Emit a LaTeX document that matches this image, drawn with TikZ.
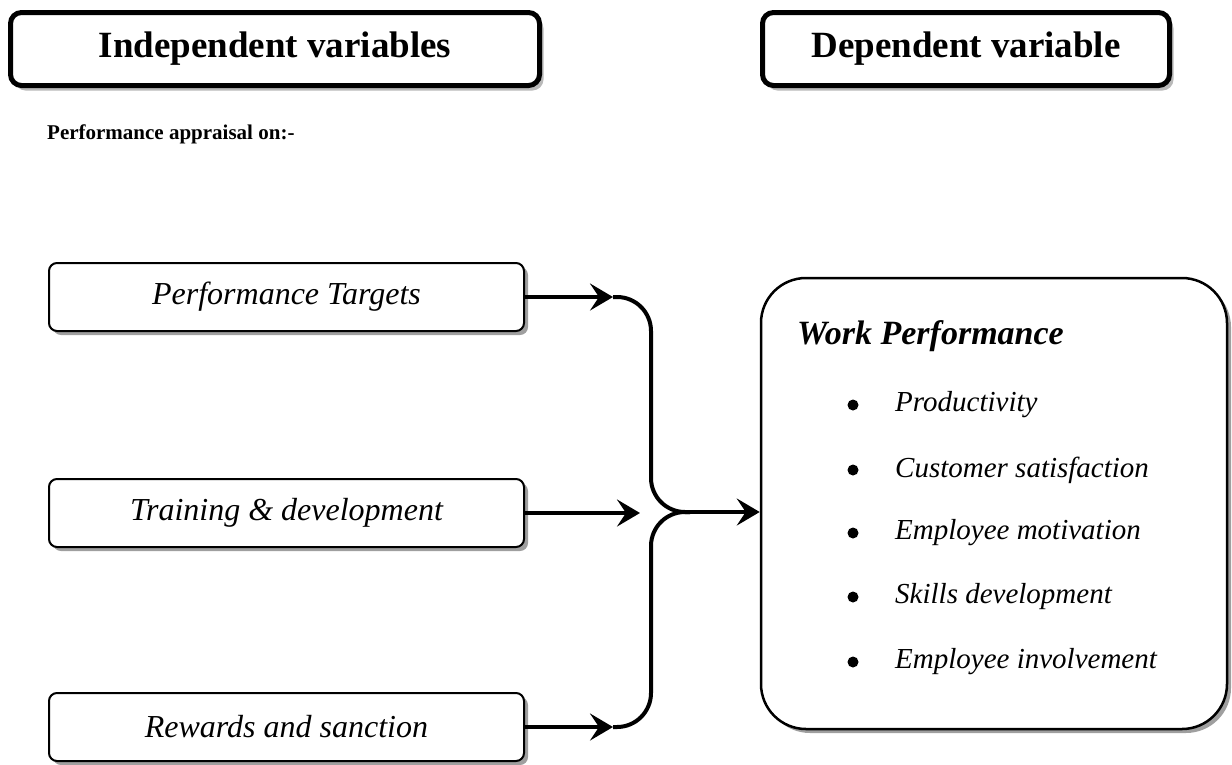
\documentclass[tikz,border=0pt]{standalone}
\usepackage{fontspec}
\setmainfont{Liberation Serif}
\usetikzlibrary{arrows.meta,shadows}
\begin{document}
\begin{tikzpicture}[x=1pt,y=-1pt,
  headbox/.style={draw,line width=5pt,rounded corners=11pt,fill=white,
    minimum width=529pt,minimum height=73pt,inner sep=0pt,
    drop shadow={shadow xshift=4pt,shadow yshift=-5pt,fill=gray!55,opacity=1},
    font=\fontsize{37}{44}\selectfont\bfseries},
  varbox/.style={draw,line width=2pt,rounded corners=8pt,fill=white,
    minimum width=475pt,minimum height=68pt,inner sep=0pt,
    drop shadow={shadow xshift=4pt,shadow yshift=-4pt,fill=gray!75,opacity=1},
    font=\fontsize{32}{38}\selectfont\itshape},
  bigbox/.style={draw,line width=2.5pt,rounded corners=45pt,fill=white,
    minimum width=466pt,minimum height=451pt,inner sep=0pt,
    drop shadow={shadow xshift=4pt,shadow yshift=-4pt,fill=gray!75,opacity=1}},
  item/.style={anchor=west,inner sep=0pt,font=\fontsize{29}{34}\selectfont\itshape},
  bul/.style={circle,fill=black,inner sep=0pt,minimum size=11pt},
  arr/.style={line width=4pt,-{Stealth[length=23pt,width=27pt,inset=9pt]}},
  brace/.style={line width=4pt,rounded corners=34pt}
]
\useasboundingbox (0,0) rectangle (1232,764);

\node[headbox] (iv) at (275,49) {Independent variables};
\node[headbox,minimum width=407pt] (dv) at (966,49) {Dependent variable};

\node[anchor=west,inner sep=0pt,font=\fontsize{21}{25}\selectfont\bfseries] (pa) at (47,134) {Performance appraisal on:-};

\node[varbox] (b1) at (286.5,297) {Performance Targets};
\node[varbox] (b2) at (286.5,513) {Training \& development};
\node[varbox] (b3) at (286.5,727) {Rewards and sanction};

\node[bigbox] (wp) at (994,503.5) {};
\node[anchor=west,inner sep=0pt,font=\fontsize{34}{40}\selectfont\bfseries\itshape] (wpt) at (797,336) {Work Performance};
\foreach \n/\t/\y in {p1/Productivity/405,p2/Customer satisfaction/470,p3/Employee motivation/533,p4/Skills development/597,p5/Employee involvement/662}{
  \node[bul] (\n b) at (853,\y) {};
  \node[item] (\n) at (895,\y) {\t};
}

\coordinate (j1) at (613,297);
\coordinate (j2) at (640,513);
\coordinate (j3) at (613,727);
\coordinate (k1) at (651,297);
\coordinate (k3) at (651,727);
\coordinate (km) at (651,512);
\coordinate (m) at (690,512);

\draw[arr] (b1.east) -- (j1);
\draw[arr] (b2.east) -- (j2);
\draw[arr] (b3.east) -- (j3);
\draw[brace] (j1) -- (k1) -- (km) -- (m);
\draw[brace] (j3) -- (k3) -- (km) -- (m);
\draw[arr] (m) -- (m -| wp.west);
\end{tikzpicture}
\end{document}
